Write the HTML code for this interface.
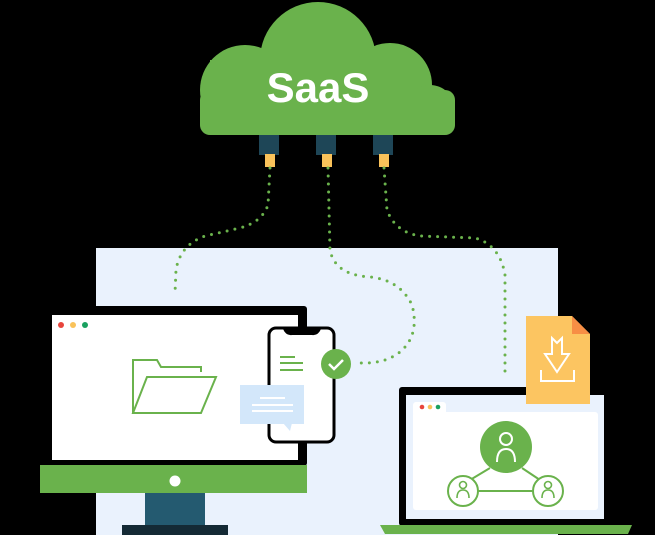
<!DOCTYPE html>
<html><head><meta charset="utf-8"><style>
html,body{margin:0;padding:0;background:#000;}
svg{display:block}
</style></head><body>
<svg width="655" height="535" viewBox="0 0 655 535" xmlns="http://www.w3.org/2000/svg">
<rect width="655" height="535" fill="#000"/>
<rect x="96" y="248" width="462" height="287" fill="#eaf2fd"/>
<!-- cloud -->
<g fill="#6ab24c">
<circle cx="318" cy="60" r="58"/>
<circle cx="245" cy="90" r="45"/>
<circle cx="390" cy="85" r="42"/>
<circle cx="430" cy="110" r="25"/>
<rect x="200" y="90" width="255" height="45" rx="10"/>
<rect x="210" y="60" width="90" height="60"/>
</g>
<text x="318" y="102" text-anchor="middle" font-family="Liberation Sans, sans-serif" font-weight="bold" font-size="42" fill="#fff">SaaS</text>
<!-- plugs -->
<g fill="#1e4657">
<rect x="259" y="135" width="20" height="20"/><rect x="316" y="135" width="20" height="20"/><rect x="373" y="135" width="20" height="20"/>
</g>
<g fill="#f9c25a">
<rect x="265" y="154" width="10" height="13"/><rect x="322" y="154" width="10" height="13"/><rect x="379" y="154" width="10" height="13"/>
</g>
<!-- dotted paths -->
<g fill="none" stroke="#6ab24c" stroke-width="3" stroke-linecap="round" stroke-dasharray="0 8">
<path d="M270 168 L268 205 Q262 222 240 228 L205 236 Q180 245 176 270 L175 293"/>
<path d="M328 168 L330 250 Q335 275 370 277 Q400 280 412 305 Q420 335 400 352 Q385 364 360 363"/>
<path d="M384 168 L387 210 Q395 232 420 236 L475 238 Q500 245 505 275 L505 375"/>
</g>
<!-- monitor -->
<rect x="40" y="306" width="267" height="160" fill="#000" rx="3"/>
<rect x="52" y="315" width="246" height="145" fill="#fff"/>
<rect x="40" y="465" width="267" height="28" fill="#6ab24c"/>
<circle cx="175" cy="481" r="5.5" fill="#fff"/>
<rect x="145" y="493" width="60" height="33" fill="#245a70"/>
<rect x="122" y="525" width="106" height="10" fill="#142a35"/>
<circle cx="61" cy="325" r="3" fill="#e8453c"/><circle cx="73" cy="325" r="3" fill="#f9c25a"/><circle cx="85" cy="325" r="3" fill="#1aa160"/>
<g fill="none" stroke="#6ab24c" stroke-width="2">
<path d="M133 413 L133 360 L157 360 L161 367 L201 367 L201 372"/>
<path d="M133 413 L147 377 L216 377 L201 413 Z"/>
</g>
<!-- phone -->
<rect x="269" y="328" width="65" height="114" rx="7" fill="#fff" stroke="#000" stroke-width="3"/>
<path d="M283 329 Q286 336 292 335 L312 335 Q318 336 321 329 Z" fill="#000"/>
<g stroke="#6ab24c" stroke-width="2"><line x1="280" y1="357" x2="295" y2="357"/><line x1="280" y1="363" x2="303" y2="363"/><line x1="280" y1="370" x2="303" y2="370"/></g>
<circle cx="336" cy="364" r="15" fill="#6ab24c"/>
<path d="M329 364 L334 369 L343 360" fill="none" stroke="#fff" stroke-width="2.5"/>
<rect x="240" y="385" width="64" height="39" fill="#d3e7fa"/>
<path d="M283 423 L290 431 L292 423 Z" fill="#d3e7fa"/>
<g stroke="#fff" stroke-width="2"><line x1="260" y1="398" x2="285" y2="398"/><line x1="252" y1="405" x2="293" y2="405"/><line x1="252" y1="411" x2="293" y2="411"/></g>
<!-- laptop -->
<rect x="399" y="387" width="207" height="139" rx="3" fill="#000"/>
<rect x="406" y="395" width="198" height="124" fill="#eaf2fd"/>
<rect x="413" y="412" width="185" height="98" rx="3" fill="#fff"/>
<rect x="413" y="402" width="33" height="14" rx="3" fill="#fff"/>
<circle cx="422" cy="407" r="2.3" fill="#e8453c"/><circle cx="430" cy="407" r="2.3" fill="#f9c25a"/><circle cx="438" cy="407" r="2.3" fill="#1aa160"/>
<path d="M380 525 L632 525 L628 534 L385 534 Z" fill="#6ab24c"/>
<g stroke="#6ab24c" stroke-width="2" fill="#fff">
<line x1="490" y1="468" x2="470" y2="480"/><line x1="522" y1="468" x2="540" y2="480"/><line x1="478" y1="491" x2="533" y2="491"/>
<circle cx="463" cy="491" r="15"/><circle cx="548" cy="491" r="15"/>
</g>
<circle cx="506" cy="447" r="26" fill="#6ab24c"/>
<g fill="none" stroke="#fff" stroke-width="2"><circle cx="506" cy="439" r="6"/><path d="M497 462 Q497 449 506 449 Q515 449 515 462"/></g>
<g fill="none" stroke="#6ab24c" stroke-width="1.6">
<circle cx="463" cy="485" r="3.5"/><path d="M457 498 Q457 490 463 490 Q469 490 469 498"/>
<circle cx="548" cy="485" r="3.5"/><path d="M542 498 Q542 490 548 490 Q554 490 554 498"/>
</g>
<!-- document -->
<path d="M526 316 L572 316 L590 334 L590 404 L526 404 Z" fill="#fcc561"/>
<path d="M572 316 L590 334 L572 334 Z" fill="#f78e45"/>
<g fill="none" stroke="#fff" stroke-width="2">
<path d="M552 338 L552 354 L545 354 L557 372 L569 354 L562 354 L562 338 L557 343 Z"/>
<path d="M541 370 L541 381 L574 381 L574 370"/>
</g>
</svg>
</body></html>
